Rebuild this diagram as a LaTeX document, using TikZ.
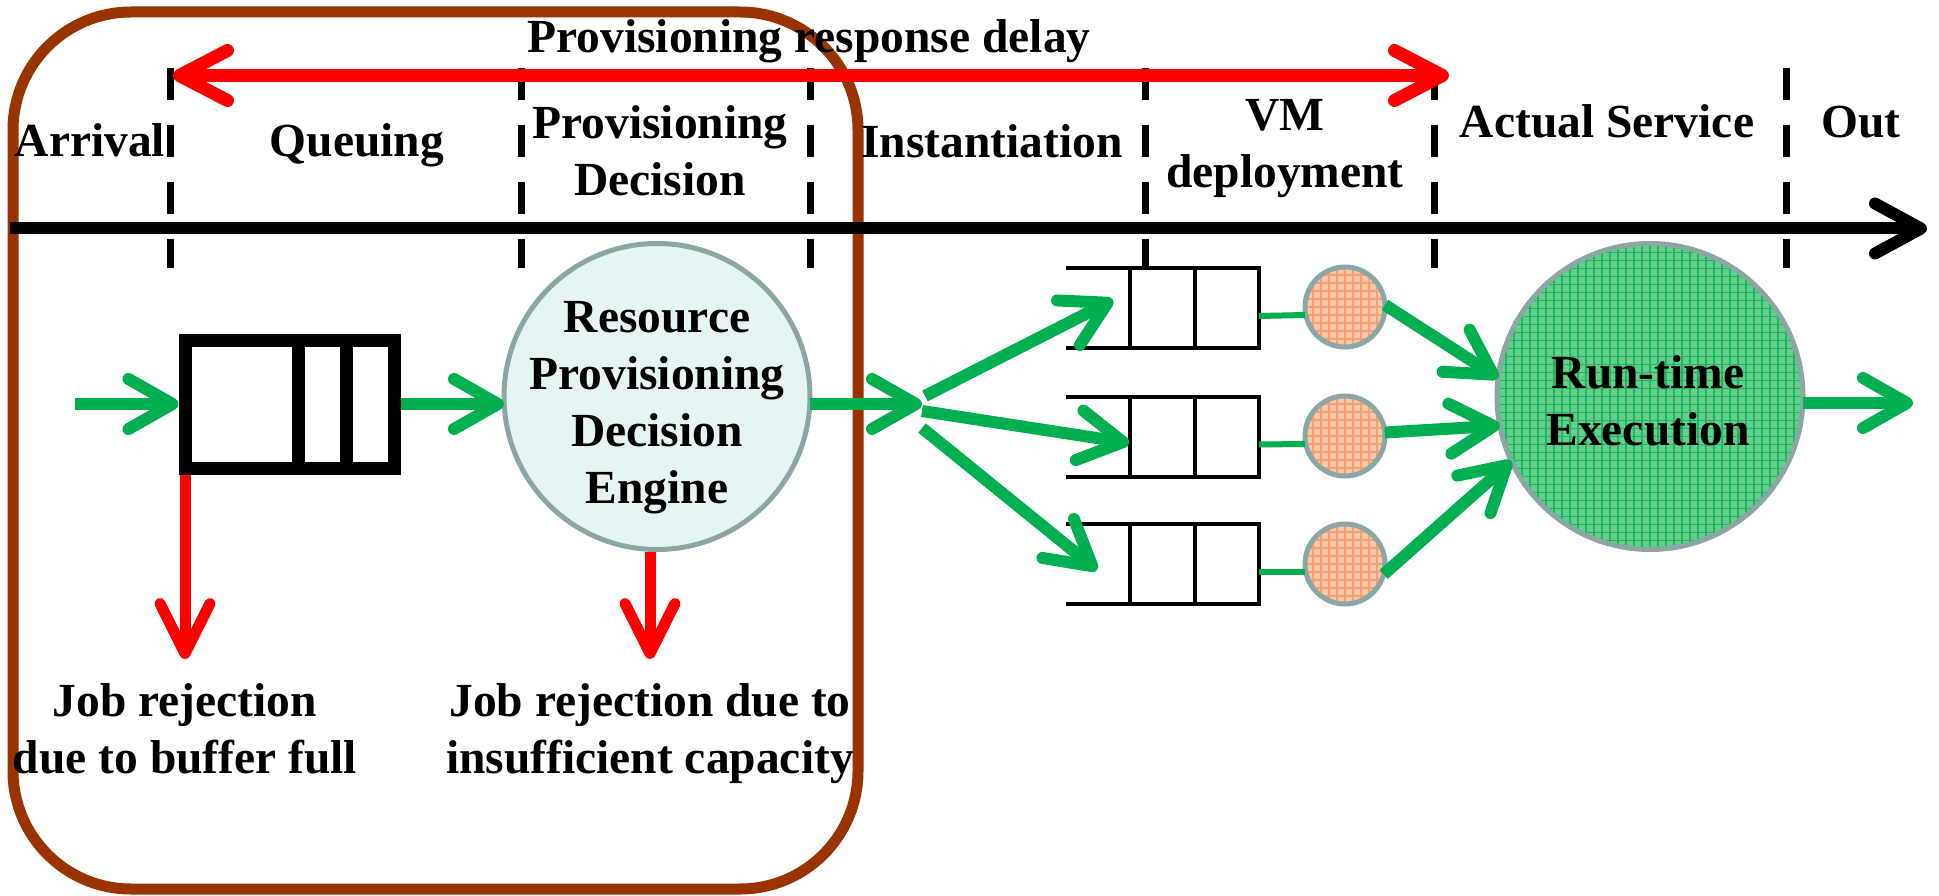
\documentclass[tikz,border=0pt]{standalone}
\usepackage{fontspec}
\setmainfont{Liberation Serif}
\usetikzlibrary{arrows.meta}

\definecolor{flowgreen}{RGB}{0,176,80}
\definecolor{rejred}{RGB}{255,0,0}
\definecolor{boxbrown}{RGB}{153,51,0}
\definecolor{rimgrey}{RGB}{140,166,166}
\definecolor{enginefill}{RGB}{231,244,244}
\definecolor{runfill}{RGB}{98,208,140}
\definecolor{rungrid}{RGB}{34,180,96}
\definecolor{vmfill}{RGB}{250,198,168}
\definecolor{vmgrid}{RGB}{244,160,114}

\begin{document}
\begin{tikzpicture}[x=1pt,y=-1pt,
  % multi-line labels are placed by the baseline of their last line
  lbl/.style={font=\fontsize{47.5}{57}\selectfont\bfseries, inner sep=0pt,
    align=center, anchor=base},
  flow/.style={draw=flowgreen, line width=12pt,
    -{Straight Barb[round,length=44pt,width=50pt]}},
  reject/.style={draw=rejred, line width=11pt,
    -{Straight Barb[round,length=50pt,width=50pt]}},
  link/.style={draw=flowgreen, line width=6pt},
  phase/.style={draw=black, line width=7pt, dash pattern=on 32pt off 25pt},
  bigqueue/.style={draw=black, line width=13pt, rectangle, inner sep=0pt,
    outer sep=0pt, minimum width=209pt, minimum height=128pt},
  vmqueue/.style={rectangle, inner sep=0pt, outer sep=0pt,
    minimum width=193pt, minimum height=80pt},
  qline/.style={draw=black, line width=4pt},
  bigball/.style={circle, draw=rimgrey, line width=5pt, inner sep=0pt,
    outer sep=0pt, minimum size=306pt},
  vmball/.style={circle, draw=rimgrey, line width=5pt, inner sep=0pt,
    outer sep=0pt, minimum size=80pt, fill=vmfill,
    path picture={\draw[vmgrid, line width=1.2pt]
      ([shift={(-3pt,-3pt)}]path picture bounding box.south west) grid[step=8pt]
      (path picture bounding box.north east);}},
]
\useasboundingbox (0,0) rectangle (1939,896);

% admission stage enclosure
\draw[boxbrown, line width=11pt, rounded corners=118pt] (13,12) rectangle (858,889);

% phase boundaries
\foreach \px in {170,521,810,1145,1434,1786}
  \draw[phase] (\px,68) -- (\px,268);

% time axis
\coordinate (t0) at (10,228.5);
\coordinate (t1) at (1927,228.5);
\draw[black, line width=12pt, -{Straight Barb[round,length=46pt,width=50pt]}] (t0) -- (t1);

% provisioning response delay span
\coordinate (dl) at (173,75.5);
\coordinate (dr) at (1449,75.5);
\draw[rejred, line width=13pt,
  {Straight Barb[round,length=48pt,width=50pt]}-{Straight Barb[round,length=48pt,width=50pt]}]
  (dl) -- (dr);
\node[lbl] (title) at (809,53) {Provisioning response delay};

% phase names
\node[lbl] (arrival) at (90,157) {Arrival};
\node[lbl] (queuing) at (357,157) {Queuing};
\node[lbl] (decision) at (660,196) {Provisioning\\Decision};
\node[lbl] (inst) at (992,158) {Instantiation};
\node[lbl] (vmdep) at (1285,188) {VM\\deployment};
\node[lbl] (service) at (1607,138) {Actual Service};
\node[lbl] (out) at (1861,138) {Out};

% admission queue and decision engine
\node[bigqueue] (q1) at (289.5,404) {};
\draw[black, line width=13pt] (298,340) -- (298,468) (346,340) -- (346,468);
\node[bigball, fill=enginefill] (eng) at (657,396.5) {};
\node[lbl] (engtext) at (657,503) {Resource\\Provisioning\\Decision\\Engine};

\coordinate (arrive) at (75,404);
\draw[flow] (arrive) -- ([xshift=-6.5pt]q1.west);
\draw[flow] ([xshift=6.5pt]q1.east) -- (eng.west |- q1.east);

% rejections
\coordinate (rej1) at (185,659);
\coordinate (rej2) at (650,659);
\draw[reject] ([yshift=-6.5pt]q1.south west) -- (rej1);
\draw[reject] ([xshift=-7pt,yshift=-2pt]eng.south) -- (rej2);
\node[lbl] (rejtext1) at (185,773) {Job rejection\\due to buffer full};
\node[lbl] (rejtext2) at (650,773) {Job rejection due to\\insufficient capacity};

% dispatch to the VM queues
\coordinate (split) at (922,404);
\draw[flow] (eng.east |- split) -- (split);

\node[vmqueue] (qa) at (1162.5,308) {};
\node[vmqueue] (qb) at (1162.5,436.5) {};
\node[vmqueue] (qc) at (1162.5,564) {};
\foreach \q in {qa,qb,qc} {
  \draw[qline] (\q.north west) -- (\q.north east) -- (\q.south east) -- (\q.south west);
  \draw[qline] ([xshift=64pt]\q.north west) -- ([xshift=64pt]\q.south west);
  \draw[qline] ([xshift=129pt]\q.north west) -- ([xshift=129pt]\q.south west);
}

\coordinate (fa) at (925,396);
\coordinate (fb) at (922,411);
\coordinate (fc) at (922,428);
\coordinate (ta) at (1113,300);
\coordinate (tb) at (1129,443);
\coordinate (tc) at (1097,570);
\draw[flow] (fa) -- (ta);
\draw[flow] (fb) -- (tb);
\draw[flow] (fc) -- (tc);

% run-time execution
\node[bigball, fill=runfill,
  path picture={\draw[rungrid, line width=1.2pt]
    ([shift={(-3pt,-3pt)}]path picture bounding box.south west) grid[step=8pt]
    (path picture bounding box.north east);}] (run) at (1650,396.5) {};
\node[lbl] (runtext) at (1648,445) {Run-time\\Execution};

% VM instances
\node[vmball] (sa) at (1345,307) {};
\node[vmball] (sb) at (1345,436) {};
\node[vmball] (sc) at (1345,564) {};
\draw[link] ([yshift=-8pt]qa.east) -- ([yshift=-8pt]sa.west);
\draw[link] ([yshift=-8pt]qb.east) -- ([yshift=-8pt]sb.west);
\draw[link] ([yshift=-8pt]qc.east) -- ([yshift=-8pt]sc.west);
\draw[flow] (sa.3) -- (run.173);
\draw[flow] (sb.5) -- (run.191.6);
\draw[flow] (sc.-15) -- (run.205);

\coordinate (leave) at (1913,403);
\draw[flow] (run.east |- leave) -- (leave);
\end{tikzpicture}
\end{document}
